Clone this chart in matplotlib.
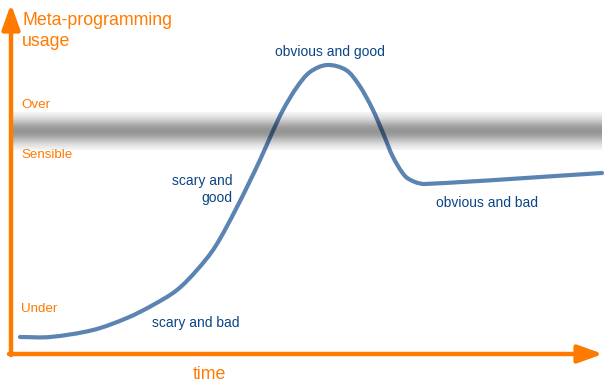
import numpy as np
import matplotlib.pyplot as plt
from matplotlib.patches import ArrowStyle, PathPatch
from matplotlib.path import Path

# === DATOS (en píxeles; y crece hacia abajo) ===
curve_time = [20, 50, 93, 127, 153, 177, 197, 215, 237, 260, 272, 283,
              297, 310, 327, 346, 359, 372, 383, 393, 405, 415, 425, 602]
curve_usage = [337, 337, 330, 318, 305, 290, 270, 247, 207, 160, 133, 110,
               87, 72, 65, 70, 85, 108, 133, 157, 176, 182, 184, 173]

level_labels = ['Over', 'Sensible', 'Under']
level_y = [108, 158, 312]

phase_labels = ['obvious and good', 'scary and\ngood', 'scary and bad', 'obvious and bad']
phase_x = [330, 232, 152, 436]
phase_y = [56, 202, 327, 207]
phase_ha = ['center', 'right', 'left', 'left']

band_center = 131   # franja "sensible"
band_width = 9

# === ESTILO ===
orange = '#ff7a00'
curve_color = '#5b84b3'
text_blue = '#0b4584'
font = 'Liberation Sans'

fig = plt.figure(figsize=(6.07, 3.83), dpi=100)
ax = fig.add_axes([0, 0, 1, 1])
ax.set_xlim(0, 607)
ax.set_ylim(383, 0)
ax.axis('off')

# curva suave: los puntos leídos unidos con tramos de Bézier
# (tangentes con parámetro de longitud de cuerda, para espaciado desigual)
pts = np.column_stack([curve_time, curve_usage]).astype(float)
n = len(pts)
t = np.concatenate([[0], np.cumsum(np.hypot(*np.diff(pts, axis=0).T))])
tang = np.zeros_like(pts)
for i in range(n):
    a, b = max(i - 1, 0), min(i + 1, n - 1)
    tang[i] = (pts[b] - pts[a]) / (t[b] - t[a])
verts = [pts[0]]
codes = [Path.MOVETO]
for i in range(n - 1):
    h = t[i + 1] - t[i]
    verts += [pts[i] + tang[i] * h / 3, pts[i + 1] - tang[i + 1] * h / 3, pts[i + 1]]
    codes += [Path.CURVE4] * 3
ax.add_patch(PathPatch(Path(verts, codes), facecolor='none', edgecolor=curve_color,
                       lw=3, capstyle='round', joinstyle='round', zorder=2))

# franja gris difuminada
yy = np.linspace(band_center - 19, band_center + 19, 80)
alpha = 0.42 * np.exp(-0.5 * ((yy - band_center) / band_width) ** 2)
img = np.zeros((len(yy), 1, 4))
img[:, 0, 3] = alpha
ax.imshow(img, extent=[12, 602, yy[-1], yy[0]], aspect='auto',
          interpolation='bilinear', zorder=3)
ax.set_xlim(0, 607)
ax.set_ylim(383, 0)

# ejes con flechas
style = ArrowStyle('-|>', head_length=1.0, head_width=0.36)
ax.annotate('', xy=(11, 4), xytext=(11, 355),
            arrowprops=dict(arrowstyle=style, color=orange, lw=3.2,
                            mutation_scale=15, shrinkA=0, shrinkB=0), zorder=4)
ax.annotate('', xy=(603, 354), xytext=(9, 354),
            arrowprops=dict(arrowstyle=style, color=orange, lw=3.2,
                            mutation_scale=15, shrinkA=0, shrinkB=0), zorder=4)

# textos de ejes
ax.text(22, 25, 'Meta-programming', color=orange, fontsize=12.8, family=font, va='baseline')
ax.text(22, 46, 'usage', color=orange, fontsize=12.8, family=font, va='baseline')
ax.text(193, 379, 'time', color=orange, fontsize=12.8, family=font, va='baseline')

for lab, y in zip(level_labels, level_y):
    ax.text(21, y, lab, color=orange, fontsize=9.6, family=font, va='baseline')

for lab, x, y, ha in zip(phase_labels, phase_x, phase_y, phase_ha):
    ax.text(x, y, lab, color=text_blue, fontsize=10, family=font,
            va='baseline', ha=ha, multialignment=ha,
            linespacing=1.25)

fig.savefig('out.png', dpi=100)
